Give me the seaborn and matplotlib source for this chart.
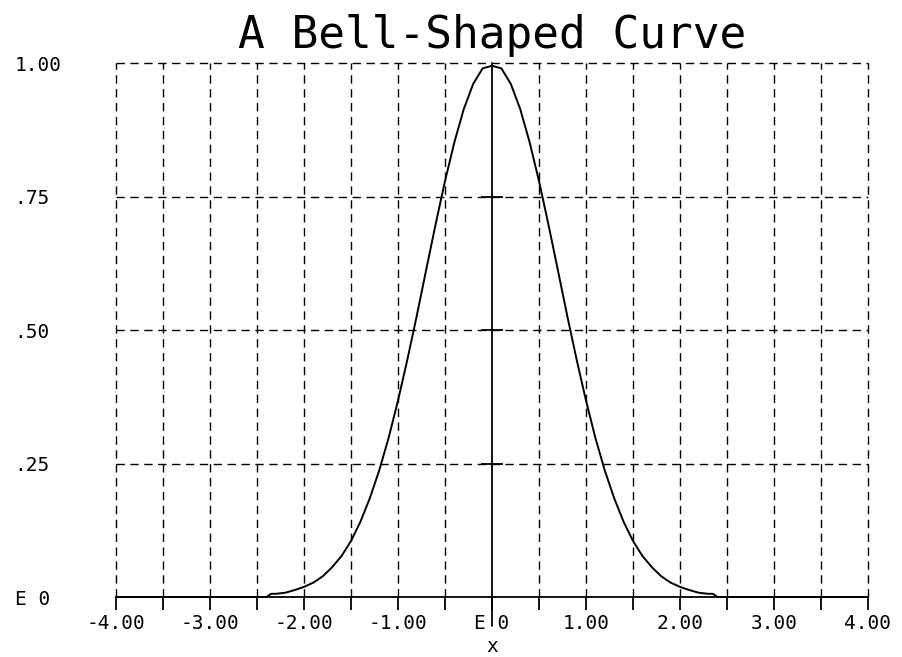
import numpy as np
import pandas as pd
import matplotlib
matplotlib.use("Agg")
import matplotlib.pyplot as plt
import seaborn as sns

# values (curve is flat at 0 beyond |x| ~ 2.4)
x_vals = [-4.0, -2.4, -2.35, -2.3, -2.2, -2.1, -2.0, -1.9, -1.8, -1.7, -1.6,
          -1.5, -1.4, -1.3, -1.2, -1.1, -1.0, -0.9, -0.8, -0.7, -0.6,
          -0.5, -0.4, -0.3, -0.2, -0.1, 0.0, 0.1, 0.2, 0.3, 0.4,
          0.5, 0.6, 0.7, 0.8, 0.9, 1.0, 1.1, 1.2, 1.3, 1.4,
          1.5, 1.6, 1.7, 1.8, 1.9, 2.0, 2.1, 2.2, 2.3, 2.35, 2.4, 4.0]
y_vals = [0.0, 0.0, 0.006, 0.006, 0.008, 0.013, 0.019, 0.027, 0.039, 0.056, 0.077,
          0.105, 0.141, 0.185, 0.237, 0.298, 0.368, 0.445, 0.527, 0.613, 0.698,
          0.779, 0.852, 0.914, 0.961, 0.990, 0.995, 0.990, 0.961, 0.914, 0.852,
          0.779, 0.698, 0.613, 0.527, 0.445, 0.368, 0.298, 0.237, 0.185, 0.141,
          0.105, 0.077, 0.056, 0.039, 0.027, 0.019, 0.013, 0.008, 0.006, 0.006, 0.0, 0.0]

x_ticks = [-4, -3, -2, -1, 0, 1, 2, 3, 4]
x_ticklabels = ["-4.00", "-3.00", "-2.00", "-1.00", "E 0", "1.00", "2.00", "3.00", "4.00"]
x_minor = [-3.5, -2.5, -1.5, -0.5, 0.5, 1.5, 2.5, 3.5]
y_ticks = [0, 0.25, 0.5, 0.75, 1.0]
y_ticklabels = ["E 0", ".25", ".50", ".75", "1.00"]

df = pd.DataFrame({"x": x_vals, "y": y_vals})

sns.set_style("white")
plt.rcParams["font.family"] = ["DejaVu Sans Mono", "DejaVu Sans"]
plt.rcParams["text.color"] = "black"
plt.rcParams["xtick.color"] = "black"
plt.rcParams["ytick.color"] = "black"
plt.rcParams["axes.labelcolor"] = "black"

fig = plt.figure(figsize=(9.03, 6.57), dpi=100)
ax = fig.add_axes([0.1285, 0.0913, 0.8327, 0.8127])

dash = (0, (6, 4))
# dashed grid
for xv in x_minor + x_ticks:
    if xv != 0:
        ax.axvline(xv, color="black", lw=1.0, ls=dash, zorder=1, clip_on=False)
for yv in y_ticks[1:]:
    ax.axhline(yv, color="black", lw=1.0, ls=dash, zorder=1, clip_on=False)

# solid axes: baseline and zero line
ax.axhline(0, color="black", lw=1.3, zorder=2, clip_on=False)
ax.axvline(0, ymin=-0.055, ymax=1.0, color="black", lw=1.3, zorder=2, clip_on=False)
ax.plot([0, 0, 0], y_ticks[1:4], ls="none", marker="_", ms=16, mew=1.3,
        color="black", zorder=2)

sns.lineplot(data=df, x="x", y="y", color="black", lw=1.4, ax=ax,
             zorder=3, clip_on=False)

ax.set_xlim(-4, 4)
ax.set_ylim(0, 1)
for s in ax.spines.values():
    s.set_visible(False)

ax.set_xticks(x_ticks)
ax.set_xticklabels(x_ticklabels, fontsize=14)
ax.set_xticks(x_minor, minor=True)
ax.tick_params(axis="x", which="both", direction="out", length=9, width=1.3,
               color="black", pad=3, bottom=True)

ax.set_yticks(y_ticks)
ax.set_yticklabels(y_ticklabels, fontsize=14)
ax.tick_params(axis="y", length=0, pad=73)
for lab in ax.get_yticklabels():
    lab.set_horizontalalignment("left")

ax.set_xlabel("x", fontsize=14, labelpad=3)
ax.set_ylabel("")
ax.set_title("A Bell-Shaped Curve", fontsize=32, pad=11, fontweight="light")

fig.savefig("out.png", dpi=100)
